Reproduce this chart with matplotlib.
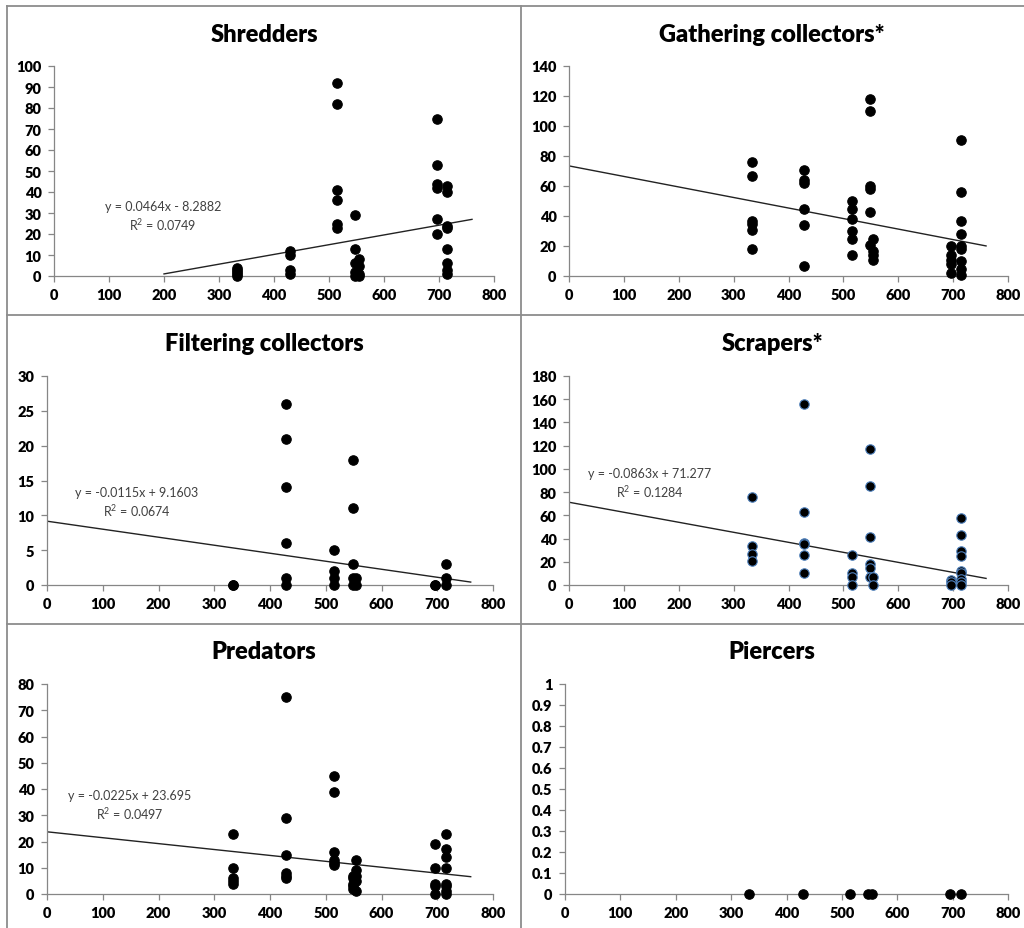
import matplotlib.pyplot as plt
import numpy as np
from matplotlib.lines import Line2D
from matplotlib.ticker import FuncFormatter

# ------------------------------------------
# data: sites (x) and densities per feeding group
# ------------------------------------------
sites = [333, 429, 515, 548, 554, 696, 715]

shredders = [[4, 3, 2, 1, 0], [12, 10, 3, 1], [92, 82, 41, 36, 25, 23],
             [29, 13, 6, 2, 0], [8, 5, 1, 0], [75, 53, 44, 42, 27, 20],
             [43, 40, 24, 23, 13, 6, 3, 1]]
gathering = [[76, 67, 37, 35, 31, 18], [71, 64, 62, 45, 34, 7], [50, 45, 38, 30, 25, 14],
             [118, 110, 60, 58, 43, 21], [25, 17, 14, 11], [20, 14, 11, 8, 2],
             [91, 56, 37, 28, 20, 18, 10, 5, 1]]
filtering = [[0, 0], [26, 21, 14, 6, 1, 0], [5, 2, 1, 0],
             [18, 11, 3, 1, 0], [1, 0], [0, 0], [3, 1, 0]]
scrapers = [[76, 34, 27, 21], [156, 63, 36, 35, 26, 10], [26, 10, 7, 0],
            [117, 85, 41, 18, 15, 7], [7, 0], [4, 3, 0],
            [58, 43, 29, 25, 12, 10, 5, 3, 0]]
predators = [[23, 10, 6, 5, 4], [75, 29, 15, 8, 7, 6], [45, 39, 16, 13, 12, 11],
             [7, 6, 4, 3, 2], [13, 9, 7, 5, 1], [19, 10, 4, 3, 0],
             [23, 17, 14, 10, 4, 3, 1, 0]]
piercers = [[0], [0], [0], [0], [0], [0], [0]]

titles = ["Shredders", "Gathering collectors*", "Filtering collectors",
          "Scrapers*", "Predators", "Piercers"]
groups = [shredders, gathering, filtering, scrapers, predators, piercers]
y_max = [100, 140, 30, 180, 80, 1]
y_step = [10, 20, 5, 20, 10, 0.1]

# trendline coefficients (slope, intercept), None = no trendline
slopes = [0.0464, -0.0702, -0.0115, -0.0863, -0.0225, None]
intercepts = [-8.2882, 73.4, 9.1603, 71.277, 23.695, None]
trend_start = [200, 0, 0, 0, 0, 0]
trend_end = 760
equations = ["y = 0.0464x - 8.2882\nR$^2$ = 0.0749", None,
             "y = -0.0115x + 9.1603\nR$^2$ = 0.0674",
             "y = -0.0863x + 71.277\nR$^2$ = 0.1284",
             "y = -0.0225x + 23.695\nR$^2$ = 0.0497", None]

# ------------------------------------------
# layout (pixels of a 1024 x 929 picture)
# ------------------------------------------
W, H = 1024, 929
# x of 0, x of 800, y of 0, y of top
boxes = [(54, 494, 277, 67), (569, 1008, 277, 67),
         (47, 493, 586, 377), (569, 1008, 586, 377),
         (47, 493, 895, 685), (565, 1008, 895, 685)]
title_pos = [(264, 35), (772, 35), (264, 344), (772, 344), (264, 652), (772, 652)]
eq_pos = [(163, 217), None, (137, 503), (650, 484), (130, 806), None]

plt.rcParams['font.family'] = ['Lato', 'DejaVu Sans']
plt.rcParams['font.weight'] = 'heavy'
plt.rcParams['mathtext.default'] = 'regular'
fig = plt.figure(figsize=(W / 100, H / 100), dpi=100)
grey = "#868686"

for i in range(6):
    x0, x1, y0, y1 = boxes[i]
    ax = fig.add_axes([x0 / W, 1 - y0 / H, (x1 - x0) / W, (y0 - y1) / H])

    # points
    edge = "#4f81bd" if titles[i] == "Scrapers*" else "black"
    for site, vals in zip(sites, groups[i]):
        ax.plot([site] * len(vals), vals, "o", color="black", mec=edge,
                mew=0.8, ms=6.8, clip_on=False, zorder=3)

    # linear trendline
    if slopes[i] is not None:
        xs = np.array([trend_start[i], trend_end])
        ax.plot(xs, slopes[i] * xs + intercepts[i], color="#222222", lw=1, zorder=2)

    ax.set_xlim(0, 800)
    ax.set_ylim(0, y_max[i])
    ax.set_xticks(np.arange(0, 801, 100))
    ax.set_yticks(np.arange(0, y_max[i] + y_step[i] / 2, y_step[i]))
    ax.yaxis.set_major_formatter(FuncFormatter(lambda v, p: "%g" % round(v, 2)))

    for s in ["top", "right"]:
        ax.spines[s].set_visible(False)
    for s in ["left", "bottom"]:
        ax.spines[s].set_color(grey)
        ax.spines[s].set_linewidth(0.9)
    ax.tick_params(direction="out", length=4, width=0.9, color=grey,
                   labelsize=10.5, pad=5)

    tx, ty = title_pos[i]
    fig.text(tx / W, 1 - ty / H, titles[i], ha="center", va="center",
             fontsize=17, fontweight="heavy")

    if equations[i] is not None:
        ex, ey = eq_pos[i]
        fig.text(ex / W, 1 - ey / H, equations[i], ha="center", va="center",
                 fontsize=9, fontweight="normal", color="#404040", linespacing=1.25)

# panel border lines
lines = [([7, 7], [7, H]), ([7, W], [7, 7]), ([521, 521], [7, H]),
         ([7, W], [316, 316]), ([7, W], [625, 625])]
for lx, ly in lines:
    fig.add_artist(Line2D([v / W for v in lx], [1 - v / H for v in ly],
                          color="#8c8c8c", lw=1.3))

plt.savefig("out.png", dpi=100)
